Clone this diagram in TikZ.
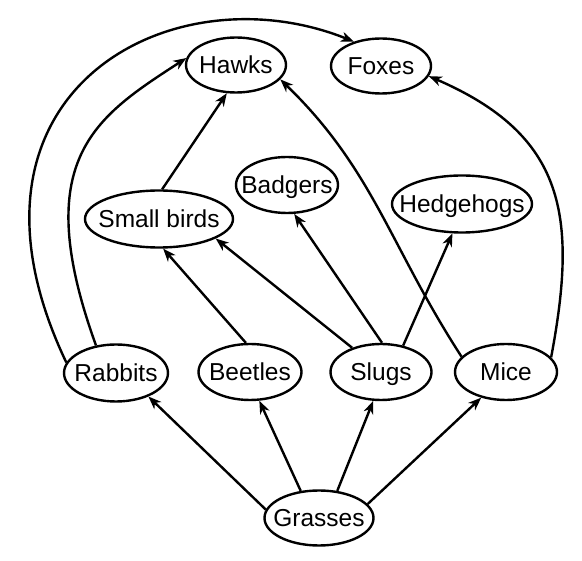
\documentclass[tikz,border=0pt]{standalone}
\usepackage{fontspec}
\setmainfont{Liberation Sans}
\usetikzlibrary{shapes.geometric,arrows.meta}
\tikzset{
  species/.style={ellipse, draw, line width=2.4pt, inner sep=0pt,
    minimum height=56pt, text height=17.5pt, text depth=0pt,
    font=\fontsize{24.5}{29}\selectfont},
  feeds/.style={line width=2.4pt, -{Stealth[length=13pt,width=10pt,inset=4pt]}}
}
\newcommand{\lbl}[1]{\makebox[0pt][c]{#1}}
\begin{document}
\begin{tikzpicture}[x=1pt,y=-1pt]
\useasboundingbox (0,0) rectangle (582,561);
\node[species, minimum width=100pt, minimum height=55pt] (hawks) at (236,65) {\lbl{Hawks}};
\node[species, minimum width=100pt, minimum height=55pt] (foxes) at (381,66) {\lbl{Foxes}};
\node[species, minimum width=102pt] (badgers) at (287,185) {\lbl{Badgers}};
\node[species, minimum width=148pt, minimum height=57pt] (smallbirds) at (159,219) {\lbl{Small birds}};
\node[species, minimum width=140pt, minimum height=57pt] (hedgehogs) at (462,204) {\lbl{Hedgehogs}};
\node[species, minimum width=104pt, minimum height=57pt] (rabbits) at (116,373) {\lbl{Rabbits}};
\node[species, minimum width=103pt] (beetles) at (250,372) {\lbl{Beetles}};
\node[species, minimum width=101pt] (slugs) at (381,372) {\lbl{Slugs}};
\node[species, minimum width=102pt] (mice) at (506,372) {\lbl{Mice}};
\node[species, minimum width=109pt, minimum height=55pt] (grasses) at (319,518) {\lbl{Grasses}};

\draw[feeds] (grasses.171) -- (rabbits.-36);
\draw[feeds] (grasses.124) -- (beetles.-72);
\draw[feeds] (grasses.56) -- (slugs.-105);
\draw[feeds] (grasses.16) -- (mice.-134);

\draw[feeds] (beetles.98) -- (smallbirds.-82);
\draw[feeds] (slugs.140) -- (smallbirds.-19);
\draw[feeds] (slugs.88) -- (badgers.-76);
\draw[feeds] (slugs.50) -- (hedgehogs.-108);
\draw[feeds] (smallbirds.84) -- (hawks.-108);

\draw[feeds] (mice.161) .. controls (390,246.5) and (373.5,169.5) .. (hawks.-18);
\draw[feeds] (mice.18) .. controls (578,215) and (565,135) .. (foxes.-12);
\draw[feeds] (rabbits.126) .. controls (28.6,159) and (95.7,116.9) .. (hawks.172);
\draw[feeds] (rabbits.168) .. controls (-61.8,93.2) and (170.2,-32.1) .. (foxes.138);
\end{tikzpicture}
\end{document}
